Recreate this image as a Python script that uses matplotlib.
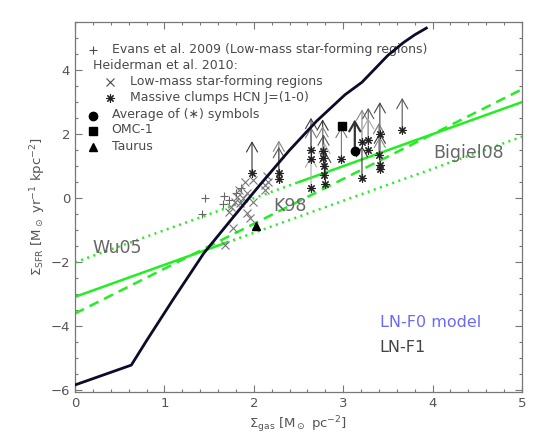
import numpy as np
import matplotlib
matplotlib.use("Agg")
import matplotlib.pyplot as plt
from matplotlib.ticker import MultipleLocator

# LN-F1 model curve (log Sigma_gas, log Sigma_SFR)
model_x = [0.0, 0.63, 0.80, 1.10, 1.44, 1.70, 1.90, 2.10, 2.40, 2.70, 3.02, 3.21, 3.50, 3.67, 3.80, 3.93]
model_y = [-5.83, -5.21, -4.45, -3.15, -1.72, -0.83, -0.15, 0.52, 1.50, 2.40, 3.23, 3.62, 4.46, 4.85, 5.10, 5.31]

# relation lines: endpoints
k98_x = [0.0, 5.0]
k98_y = [-3.6, 3.4]
big_solid_x = [0.0, 1.7]
big_solid_y = [-3.08, -1.38]
big_dot_x = [1.7, 5.0]
big_dot_y = [-1.38, 1.92]
wu_dot_x = [0.0, 2.5]
wu_dot_y = [-2.0, 0.5]
wu_solid_x = [2.5, 5.0]
wu_solid_y = [0.5, 3.0]

# Evans et al. 2009
evans_x = [1.45, 1.42, 1.67, 1.65, 1.86, 1.80, 1.72]
evans_y = [0.00, -0.50, 0.08, -0.19, 0.31, 0.16, -0.05]

# Heiderman et al. 2010, low-mass regions
heid_x = [1.99, 1.90, 2.13, 2.16, 2.13, 1.83, 1.92, 1.81, 1.88, 1.79, 1.85,
          1.75, 1.99, 1.92, 1.96, 1.77, 1.68, 1.72, 2.15]
heid_y = [0.57, 0.52, 0.42, 0.52, 0.26, 0.26, 0.16, 0.05, 0.00, -0.11, -0.16,
          -0.26, -0.11, -0.47, -0.63, -0.94, -1.46, -0.42, 0.70]

# massive clumps HCN (lower limits)
hcn_x = [1.98, 2.28, 2.28, 2.64, 2.64, 2.64, 2.77, 2.77, 2.78, 2.79, 2.80,
         2.98, 3.21, 3.21, 3.28, 3.28, 3.41, 3.40, 3.41, 3.41, 3.66]
hcn_y = [0.78, 0.80, 0.60, 0.31, 1.51, 1.22, 1.46, 1.25, 0.99, 0.73, 0.45,
         1.23, 0.63, 1.77, 1.82, 1.50, 2.00, 1.35, 1.05, 0.92, 2.13]
arrow_len = 1.0

avg_x, avg_y = [3.13], [1.46]
omc_x, omc_y = [2.99], [2.26]
taurus_x, taurus_y = [2.03], [-0.87]

green = '#22ee22'
gray_txt = '#555555'

fig = plt.figure(figsize=(5.45, 4.36), dpi=100)
ax = fig.add_axes([0.1376, 0.1009, 0.8202, 0.8486])

# relations
ax.plot(k98_x, k98_y, color=green, lw=1.8, ls=(0, (4, 2.5)))
ax.plot(big_solid_x, big_solid_y, color=green, lw=1.8)
ax.plot(big_dot_x, big_dot_y, color=green, lw=1.8, ls=(0, (0.8, 1.8)))
ax.plot(wu_dot_x, wu_dot_y, color=green, lw=1.8, ls=(0, (0.8, 1.8)))
ax.plot(wu_solid_x, wu_solid_y, color=green, lw=1.8)

# model
ax.plot(model_x, model_y, color='#0b0b2a', lw=2.0, zorder=5)

# data
ax.plot(evans_x, evans_y, ls='none', marker='+', ms=6, mew=0.8, color='#666666')
ax.plot(heid_x, heid_y, ls='none', marker='x', ms=5.5, mew=0.8, color='#777777')
grays = ['#333333', '#888888', '#555555', '#aaaaaa', '#444444', '#777777']
head = '->,head_length=0.7,head_width=0.4'
for i, (x, y) in enumerate(zip(hcn_x, hcn_y)):
    ax.annotate('', xy=(x, y + arrow_len), xytext=(x, y),
                arrowprops=dict(arrowstyle=head, color=grays[i % len(grays)], lw=0.8,
                                shrinkA=0, shrinkB=0, mutation_scale=10))
ax.plot(hcn_x, hcn_y, ls='none', marker=(8, 2, 0), ms=6, mew=0.8, color='#222222', zorder=4)
ax.annotate('', xy=(avg_x[0], avg_y[0] + arrow_len), xytext=(avg_x[0], avg_y[0]),
            arrowprops=dict(arrowstyle=head, color='#333333', lw=1.6,
                            shrinkA=0, shrinkB=0, mutation_scale=10))
ax.plot(avg_x, avg_y, ls='none', marker='o', ms=6, color='black', zorder=6)
ax.plot(omc_x, omc_y, ls='none', marker='s', ms=6, color='black', zorder=6)
ax.plot(taurus_x, taurus_y, ls='none', marker='^', ms=6, color='black', zorder=6)

# legend drawn as text
fs = 9
tc = '#4a4a4a'
ax.plot([0.205], [4.63], marker='+', ms=6, mew=0.8, color=tc)
ax.text(0.41, 4.63, 'Evans et al. 2009 (Low-mass star-forming regions)', fontsize=fs,
        color=tc, va='center')
ax.text(0.205, 4.14, 'Heiderman et al. 2010:', fontsize=fs, color=tc, va='center')
ax.plot([0.39], [3.63], marker='x', ms=5.5, mew=0.8, color=tc)
ax.text(0.61, 3.63, 'Low-mass star-forming regions', fontsize=fs, color=tc, va='center')
ax.plot([0.39], [3.13], marker=(8, 2, 0), ms=6, mew=0.8, color='#222222')
ax.text(0.61, 3.13, 'Massive clumps HCN J=(1-0)', fontsize=fs, color=tc, va='center')
ax.plot([0.20], [2.58], marker='o', ms=6, color='black')
ax.text(0.41, 2.62, 'Average of (\u2217) symbols', fontsize=fs, color=tc, va='center')
ax.plot([0.20], [2.10], marker='s', ms=6, color='black')
ax.text(0.41, 2.13, 'OMC-1', fontsize=fs, color=tc, va='center')
ax.plot([0.20], [1.60], marker='^', ms=6, color='black')
ax.text(0.41, 1.61, 'Taurus', fontsize=fs, color=tc, va='center')

# line labels
ax.text(0.20, -1.56, 'Wu05', fontsize=12.5, color='#666666', va='center')
ax.text(2.22, -0.23, 'K98', fontsize=12.5, color='#666666', va='center')
ax.text(4.01, 1.41, 'Bigiel08', fontsize=12.5, color='#666666', va='center')
ax.text(3.41, -3.88, 'LN-F0 model', fontsize=11.5, color='#6a6aff', va='center')
ax.text(3.41, -4.66, 'LN-F1', fontsize=11.5, color='#444444', va='center')

ax.set_xlim(0, 5)
ax.set_ylim(-6.05, 5.5)
ax.xaxis.set_major_locator(MultipleLocator(1))
ax.xaxis.set_minor_locator(MultipleLocator(0.2))
ax.yaxis.set_major_locator(MultipleLocator(2))
ax.yaxis.set_minor_locator(MultipleLocator(0.5))
ax.tick_params(which='both', direction='in', top=True, right=True, colors='#777777',
               labelcolor=gray_txt, labelsize=9.5)
ax.tick_params(which='major', length=5, width=0.8)
ax.tick_params(which='minor', length=2.5, width=0.8)
for s in ax.spines.values():
    s.set_color('#777777')
    s.set_linewidth(0.9)

ax.set_xlabel(r'$\Sigma_{\rm gas}$ [M$_\odot$ pc$^{-2}$]', fontsize=9.5, color=gray_txt, labelpad=3)
ax.set_ylabel(r'$\Sigma_{\rm SFR}$ [M$_\odot$ yr$^{-1}$ kpc$^{-2}$]', fontsize=9.5, color=gray_txt,
              labelpad=2)

fig.savefig('out.png', dpi=100)
